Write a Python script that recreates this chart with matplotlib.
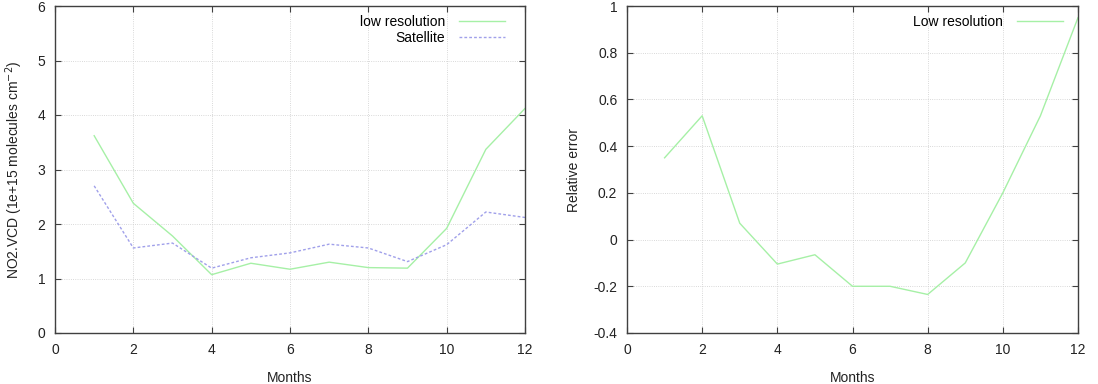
import numpy as np
import matplotlib.pyplot as plt

plt.rcParams['font.family'] = ['Liberation Sans', 'DejaVu Sans']
plt.rcParams['font.size'] = 10

# dados
months = [1, 2, 3, 4, 5, 6, 7, 8, 9, 10, 11, 12]
low_res = [3.62, 2.38, 1.78, 1.07, 1.28, 1.17, 1.30, 1.20, 1.19, 1.92, 3.37, 4.12]
satellite = [2.70, 1.56, 1.65, 1.19, 1.38, 1.47, 1.63, 1.56, 1.31, 1.62, 2.22, 2.12]
rel_error = [0.35, 0.53, 0.07, -0.105, -0.065, -0.20, -0.20, -0.235, -0.10, 0.20, 0.53, 0.95]

green = '#a6f0a6'
blue = '#a0a0ea'

fig = plt.figure(figsize=(10.98, 3.84), dpi=100)
ax1 = fig.add_axes([55/1098, 51/384, 470/1098, 327/384])
ax2 = fig.add_axes([627/1098, 51/384, 451/1098, 327/384])


def estilo(ax):
    for sp in ax.spines.values():
        sp.set_color('#404040')
        sp.set_linewidth(1.0)
    ax.tick_params(direction='in', top=True, right=True, length=4,
                   color='#404040', labelsize=10, labelcolor='#222222', pad=7)
    ax.grid(True, linestyle=':', color='#cccccc', linewidth=0.6)
    ax.set_xlim(0, 12)
    ax.set_xticks(range(0, 13, 2))
    ax.set_xlabel('Months', fontsize=10, color='#222222', labelpad=10)


ax1.plot(months, low_res, color=green, linewidth=1.0, label='low resolution')
ax1.plot(months, satellite, color=blue, linewidth=1.0, linestyle=(0, (2, 1.5)), label='Satellite')
estilo(ax1)
ax1.set_ylim(0, 6)
ax1.set_yticks(range(0, 7))
ax1.set_ylabel('NO2.VCD (1e+15 molecules cm$^{-2}$)', fontsize=10, color='#222222', labelpad=9)
ax1.legend(loc='upper right', frameon=False, markerfirst=False, fontsize=10,
           handlelength=3.3, borderaxespad=0.2, borderpad=0.3, labelspacing=0.15,
           handletextpad=1.0, bbox_to_anchor=(0.972, 0.995))

ax2.plot(months, rel_error, color=green, linewidth=1.0, label='Low resolution')
estilo(ax2)
ax2.set_ylim(-0.4, 1)
yt = np.round(np.arange(-0.4, 1.01, 0.2), 1)
ax2.set_yticks(yt)
ax2.set_yticklabels(['%g' % v for v in yt])
ax2.set_ylabel('Relative error', fontsize=10, color='#222222', labelpad=9)
ax2.legend(loc='upper right', frameon=False, markerfirst=False, fontsize=10,
           handlelength=3.3, borderaxespad=0.2, borderpad=0.3,
           handletextpad=1.0, bbox_to_anchor=(0.982, 0.995))

plt.savefig('out.png', dpi=100)
